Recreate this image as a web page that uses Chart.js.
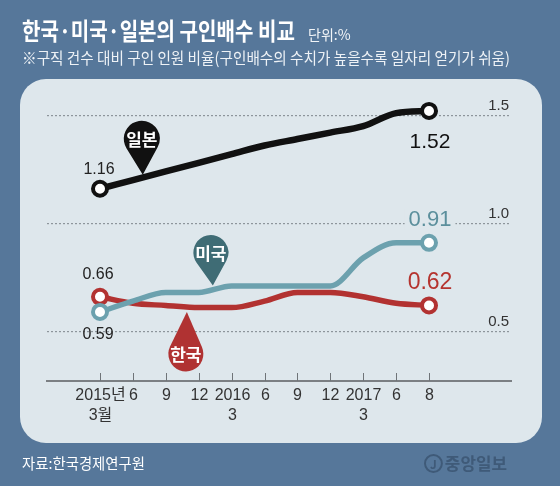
<!DOCTYPE html>
<html>
<head>
<meta charset="utf-8">
<script src="https://cdn.jsdelivr.net/npm/chart.js@4"></script>
<style>
  html, body { margin: 0; padding: 0; }
  body { width: 560px; height: 486px; overflow: hidden; background: #56779a; position: relative;
         font-family: "Noto Sans CJK KR", sans-serif; }
  .panel { position: absolute; left: 20px; top: 79px; width: 522px; height: 364px;
           background: #dee7ec; border-radius: 26px; }
  #chart { position: absolute; left: 0; top: 0; }
  .fit { position: absolute; white-space: nowrap; transform-origin: 0 0; color: #fff; }
  .title { left: 22px; top: 14px; font-size: 24px; font-weight: bold; line-height: 32px; }
  .unit { left: 308px; top: 24px; font-size: 14px; line-height: 20px; color: #f2f5f8; }
  .sub { left: 22px; top: 46px; font-size: 16px; line-height: 22px; color: #eef2f6; }
  .src { left: 22px; top: 453px; font-size: 15px; line-height: 20px; }
  .logo { left: 424px; top: 452px; font-size: 17px; line-height: 22px; font-weight: bold; color: #3f5a78; }
  .logo .j { display: inline-block; width: 15px; height: 15px; border: 2px solid #3f5a78; border-radius: 50%;
             font-size: 12px; line-height: 15px; text-align: center; vertical-align: 1px; margin-right: 2px; }
</style>
</head>
<body>
<div class="panel"></div>
<canvas id="chart" width="560" height="486"></canvas>
<div class="fit title" data-w="273">한국·미국·일본의 구인배수 비교</div>
<div class="fit unit">단위:%</div>
<div class="fit sub" data-w="488">※구직 건수 대비 구인 인원 비율(구인배수의 수치가 높을수록 일자리 얻기가 쉬움)</div>
<div class="fit src" data-w="123">자료:한국경제연구원</div>
<div class="fit logo" data-w="83"><span class="j">J</span>중앙일보</div>
<script>
// 분기별 구인배수 (2015년 3월 ~ 2017년 8월)
const xLabelsTop = ['2015년', '6', '9', '12', '2016', '6', '9', '12', '2017', '6', '8'];
const xLabelsBottom = ['3월', '', '', '', '3', '', '', '', '3', '', ''];
const japan = [1.16, 1.20, 1.24, 1.28, 1.32, 1.36, 1.39, 1.42, 1.45, 1.51, 1.52];
const usa = [0.59, 0.64, 0.68, 0.68, 0.71, 0.71, 0.71, 0.71, 0.84, 0.91, 0.91];
const korea = [0.66, 0.63, 0.62, 0.61, 0.61, 0.64, 0.68, 0.68, 0.66, 0.63, 0.62];
const yTicks = [0.5, 1.0, 1.5];

const NUM_FONT = '"Liberation Sans", "Noto Sans CJK KR", sans-serif';
const KR_FONT = '"Noto Sans CJK KR", sans-serif';
const last = japan.length - 1;

// 글자 폭 맞추기 (원본 서체가 좁아서)
document.querySelectorAll('.fit[data-w]').forEach(el => {
    const w = el.getBoundingClientRect().width;
    el.style.transform = `scaleX(${el.dataset.w / w})`;
});

function toXY(arr) {
    return arr.map((v, i) => ({ x: i, y: v }));
}

function lineSet(label, data, color, width) {
    return {
        label: label,
        data: toXY(data),
        borderColor: color,
        borderWidth: width,
        backgroundColor: '#ffffff',
        pointBackgroundColor: '#ffffff',
        pointBorderColor: color,
        pointBorderWidth: 4,
        pointRadius: ctx => (ctx.dataIndex === 0 || ctx.dataIndex === last) ? 7 : 0,
        borderJoinStyle: 'round',
        borderCapStyle: 'round',
        cubicInterpolationMode: 'monotone',
        tension: 0.3
    };
}

function drawPin(ctx, tx, ty, cx, cy, r, color, text) {
    const phi = Math.atan2(ty - cy, tx - cx);
    const d = Math.hypot(tx - cx, ty - cy);
    const th = Math.acos(r / d);
    ctx.beginPath();
    ctx.moveTo(tx, ty);
    ctx.arc(cx, cy, r, phi + th, phi - th + Math.PI * 2, false);
    ctx.closePath();
    ctx.fillStyle = color;
    ctx.fill();
    ctx.fillStyle = '#ffffff';
    ctx.font = 'bold 17px ' + KR_FONT;
    ctx.textAlign = 'center';
    ctx.textBaseline = 'middle';
    ctx.fillText(text, cx, cy + 1);
}

function label(ctx, text, x, y, size, color, bg) {
    ctx.font = size + 'px ' + NUM_FONT;
    ctx.textAlign = 'center';
    ctx.textBaseline = 'alphabetic';
    if (bg) {
        const w = ctx.measureText(text).width;
        ctx.fillStyle = bg;
        ctx.fillRect(x - w / 2 - 4, y - size * 0.8, w + 8, size);
    }
    ctx.fillStyle = color;
    ctx.fillText(text, x, y);
}

const decorations = {
    id: 'decorations',
    beforeDatasetsDraw(chart) {
        const { ctx, scales: { x, y }, chartArea } = chart;
        ctx.save();
        // x축 눈금과 레이블
        ctx.strokeStyle = '#6f7478';
        ctx.lineWidth = 1;
        xLabelsTop.forEach((t, i) => {
            const px = Math.round(x.getPixelForValue(i)) + 0.5;
            ctx.beginPath();
            ctx.moveTo(px, chartArea.bottom);
            ctx.lineTo(px, chartArea.bottom - 8);
            ctx.stroke();
            ctx.fillStyle = '#333';
            ctx.font = '16px ' + NUM_FONT;
            ctx.textAlign = 'center';
            ctx.fillText(t, px, chartArea.bottom + 19);
            ctx.fillText(xLabelsBottom[i], px, chartArea.bottom + 39);
        });
        // 오른쪽 y축 레이블
        yTicks.forEach(v => {
            ctx.fillStyle = '#333';
            ctx.font = '15px ' + NUM_FONT;
            ctx.textAlign = 'right';
            ctx.fillText(v.toFixed(1), chartArea.right - 2, y.getPixelForValue(v) - 5);
        });
        // 0.91 레이블은 점선을 가림
        label(ctx, usa[last].toFixed(2), x.getPixelForValue(last) + 1, y.getPixelForValue(usa[last]) - 17, 22, '#5b8f9c', '#dee7ec');
        ctx.restore();
    },
    afterDatasetsDraw(chart) {
        const { ctx, scales: { x, y } } = chart;
        ctx.save();
        // 말풍선 핀
        let tx = x.getPixelForValue(1.3), ty = y.getPixelForValue(1.225);
        drawPin(ctx, tx, ty, tx - 1, ty - 36, 18, '#111111', '일본');
        tx = x.getPixelForValue(3.43); ty = y.getPixelForValue(0.712);
        drawPin(ctx, tx, ty, tx - 2, ty - 33, 17.5, '#3f6c75', '미국');
        tx = x.getPixelForValue(2.64); ty = y.getPixelForValue(0.59);
        drawPin(ctx, tx, ty, tx - 1, ty + 42, 17.5, '#b03232', '한국');

        // 시작·끝 값
        const x0 = x.getPixelForValue(0), xl = x.getPixelForValue(last);
        label(ctx, japan[0].toFixed(2), x0 - 1, y.getPixelForValue(japan[0]) - 15, 16, '#222');
        label(ctx, korea[0].toFixed(2), x0 - 2, y.getPixelForValue(korea[0]) - 18, 16, '#222');
        label(ctx, usa[0].toFixed(2), x0 - 2, y.getPixelForValue(usa[0]) + 27, 16, '#222');
        label(ctx, japan[last].toFixed(2), xl + 1, y.getPixelForValue(japan[last]) + 37, 21, '#111');
        label(ctx, korea[last].toFixed(2), xl + 1, y.getPixelForValue(korea[last]) - 16, 23, '#b5342f');
        ctx.restore();
    }
};

new Chart(document.getElementById('chart'), {
    type: 'line',
    data: {
        datasets: [
            lineSet('일본', japan, '#111111', 6.5),
            lineSet('미국', usa, '#6ca1ae', 5.5),
            lineSet('한국', korea, '#b23231', 5.5)
        ]
    },
    options: {
        responsive: false,
        animation: false,
        layout: { padding: { left: 47, right: 49, top: 90, bottom: 97 } },
        scales: {
            x: {
                type: 'linear',
                min: -1.611,
                max: 12.492,
                afterBuildTicks: s => { s.ticks = xLabelsTop.map((_, i) => ({ value: i })); },
                ticks: { display: false },
                grid: { display: false },
                border: { display: true, color: '#7b7f83', width: 2 }
            },
            y: {
                min: 0.2703,
                max: 1.617,
                afterBuildTicks: s => { s.ticks = yTicks.map(v => ({ value: v })); },
                ticks: { display: false },
                grid: { color: '#8d959b', lineWidth: 1.2, drawTicks: false },
                border: { display: false, dash: [2, 2] }
            }
        },
        plugins: {
            legend: { display: false },
            tooltip: { enabled: false }
        }
    },
    plugins: [decorations]
});
</script>
</body>
</html>
